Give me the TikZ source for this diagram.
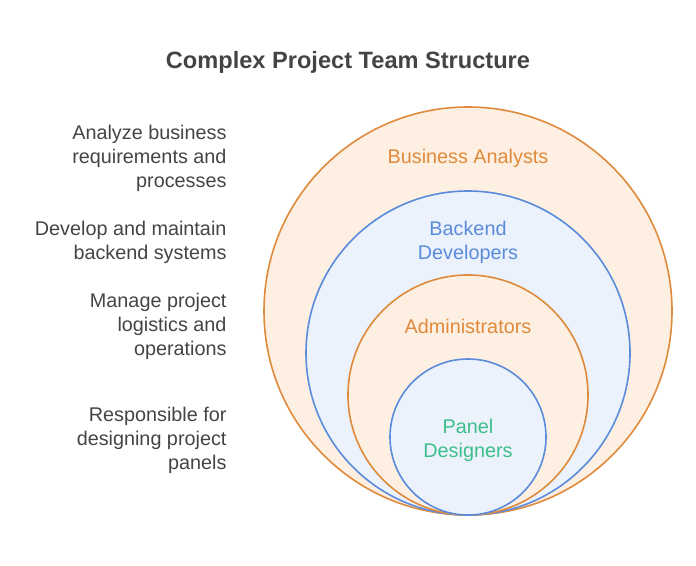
\documentclass[tikz,border=0pt]{standalone}
\usepackage{fontspec}
\setmainfont{Liberation Sans}
\definecolor{orangeline}{HTML}{E08A3C}
\definecolor{orangefill}{HTML}{FDEFE1}
\definecolor{blueline}{HTML}{5B8BDB}
\definecolor{bluefill}{HTML}{EBF2FC}
\definecolor{greentext}{HTML}{3DBE8A}
\definecolor{darktext}{HTML}{444444}
\tikzset{
  ring/.style={line width=1.6pt},
  desc/.style={anchor=east, align=right, text=darktext, font=\fontsize{19.8}{24}\selectfont},
  team/.style={align=center, font=\fontsize{19.8}{24}\selectfont}
}
\begin{document}
\begin{tikzpicture}[x=1pt,y=-1pt]
  \useasboundingbox (0,0) rectangle (696,565);
  \node[font=\bfseries\fontsize{23.6}{28}\selectfont, text=darktext] (title) at (348,62) {Complex Project Team Structure};

  % nested circles, all touching at the bottom
  \draw[ring, draw=orangeline, fill=orangefill] (468,311) circle (204);
  \draw[ring, draw=blueline, fill=bluefill] (468,353) circle (162);
  \draw[ring, draw=orangeline, fill=orangefill] (468,395) circle (120);
  \draw[ring, draw=blueline, fill=bluefill] (468,437) circle (78);

  \node[team, text=orangeline] (analysts) at (468,158) {Business Analysts};
  \node[team, text=blueline] (backend) at (468,242) {Backend\\Developers};
  \node[team, text=orangeline] (admins) at (468,326) {Administrators};
  \node[team, text=greentext] (panel) at (468,440) {Panel\\Designers};

  \node[desc] (analystsdesc) at (230,158) {Analyze business\\requirements and\\processes};
  \node[desc] (backenddesc) at (230,242) {Develop and maintain\\backend systems};
  \node[desc] (adminsdesc) at (230,326) {Manage project\\logistics and\\operations};
  \node[desc] (paneldesc) at (230,440) {Responsible for\\designing project\\panels};
\end{tikzpicture}
\end{document}
